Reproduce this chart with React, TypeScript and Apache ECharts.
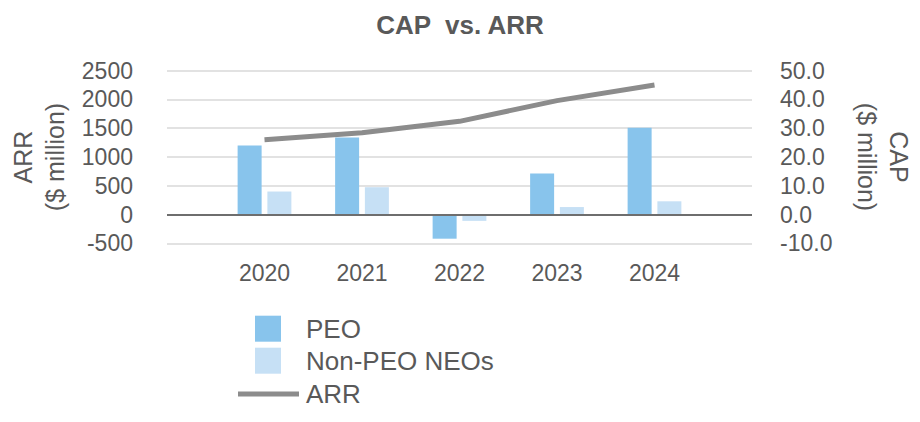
import React, { useEffect, useRef } from "react";
import * as echarts from "echarts";

const categories = ["", "2020", "2021", "2022", "2023", "2024", ""];
const peoCap = [null, 24.0, 26.8, -8.4, 14.3, 30.2, null];
const nonPeoCap = [null, 8.0, 9.5, -2.2, 2.6, 4.6, null];
const arr = [null, 1300, 1420, 1620, 1980, 2250, null];

const FONT = "'Liberation Sans', Arial, sans-serif";
const TXT = "#595959";

export default function App() {
  const ref = useRef<HTMLDivElement>(null);
  useEffect(() => {
    const chart = echarts.init(ref.current!, null, { renderer: "svg" });
    chart.setOption({
      animation: false,
      backgroundColor: "#ffffff",
      textStyle: { fontFamily: FONT },
      title: {
        text: "CAP  vs. ARR",
        left: "center",
        top: 7,
        textStyle: { fontFamily: FONT, fontSize: 26, fontWeight: "bold", color: TXT },
      },
      grid: {
        left: 167,
        right: 168,
        top: 70.7,
        bottom: 178.7,
        containLabel: false,
        outerBoundsMode: "none",
      },
      legend: [
        {
          orient: "vertical",
          left: 255,
          top: 315.7,
          padding: 0,
          itemWidth: 26,
          itemHeight: 26,
          itemGap: 6,
          icon: "rect",
          data: ["PEO", "Non-PEO NEOs"],
          textStyle: { fontFamily: FONT, fontSize: 26, color: TXT, padding: [0, 0, 0, 20] },
        },
        {
          orient: "vertical",
          left: 238,
          top: 381,
          padding: 0,
          itemWidth: 61,
          itemHeight: 5,
          icon: "rect",
          data: ["ARR"],
          textStyle: { fontFamily: FONT, fontSize: 26, color: TXT, padding: [0, 0, 0, 2] },
        },
      ],
      xAxis: {
        type: "category",
        data: categories,
        boundaryGap: false,
        axisLine: { show: false, onZero: false },
        axisTick: { show: false },
        axisLabel: { fontFamily: FONT, fontSize: 23, color: TXT, margin: 18 },
        splitLine: { show: false },
      },
      yAxis: [
        {
          type: "value",
          min: -500,
          max: 2500,
          interval: 500,
          name: "ARR\n($ million)",
          nameLocation: "middle",
          nameRotate: 90,
          nameGap: 88,
          nameTextStyle: { fontFamily: FONT, fontSize: 25, color: TXT, lineHeight: 32 },
          axisLine: { show: false },
          axisTick: { show: false },
          axisLabel: {
            fontFamily: FONT,
            fontSize: 23,
            color: TXT,
            margin: 34,
            formatter: (v: number) => String(v),
          },
          splitLine: { show: true, lineStyle: { color: "#d9d9d9", width: 1.5 } },
        },
        {
          type: "value",
          min: -10,
          max: 50,
          interval: 10,
          name: "CAP\n($ million)",
          nameLocation: "middle",
          nameRotate: -90,
          nameGap: 99,
          nameTextStyle: { fontFamily: FONT, fontSize: 25, color: TXT, lineHeight: 32 },
          axisLine: { show: false },
          axisTick: { show: false },
          axisLabel: {
            fontFamily: FONT,
            fontSize: 23,
            color: TXT,
            margin: 28,
            formatter: (v: number) => v.toFixed(1),
          },
          splitLine: { show: false },
        },
      ],
      series: [
        {
          name: "PEO",
          type: "bar",
          yAxisIndex: 1,
          data: peoCap,
          barWidth: 24,
          barGap: "24%",
          itemStyle: { color: "#88c4ec" },
          markLine: {
            silent: true,
            symbol: "none",
            label: { show: false },
            lineStyle: { color: "#6e6e6e", width: 2, type: "solid" },
            data: [{ yAxis: 0 }],
          },
        },
        {
          name: "Non-PEO NEOs",
          type: "bar",
          yAxisIndex: 1,
          data: nonPeoCap,
          barWidth: 24,
          barGap: "24%",
          itemStyle: { color: "#c6e0f5" },
        },
        {
          name: "ARR",
          type: "line",
          yAxisIndex: 0,
          data: arr,
          showSymbol: false,
          symbol: "none",
          lineStyle: { color: "#8c8c8c", width: 5, cap: "butt" },
          itemStyle: { color: "#8c8c8c" },
        },
      ],
    });
    return () => chart.dispose();
  }, []);
  return (
    <div
      ref={ref}
      style={{ position: "fixed", left: 0, top: 0, width: 920, height: 422, background: "#fff" }}
    />
  );
}
